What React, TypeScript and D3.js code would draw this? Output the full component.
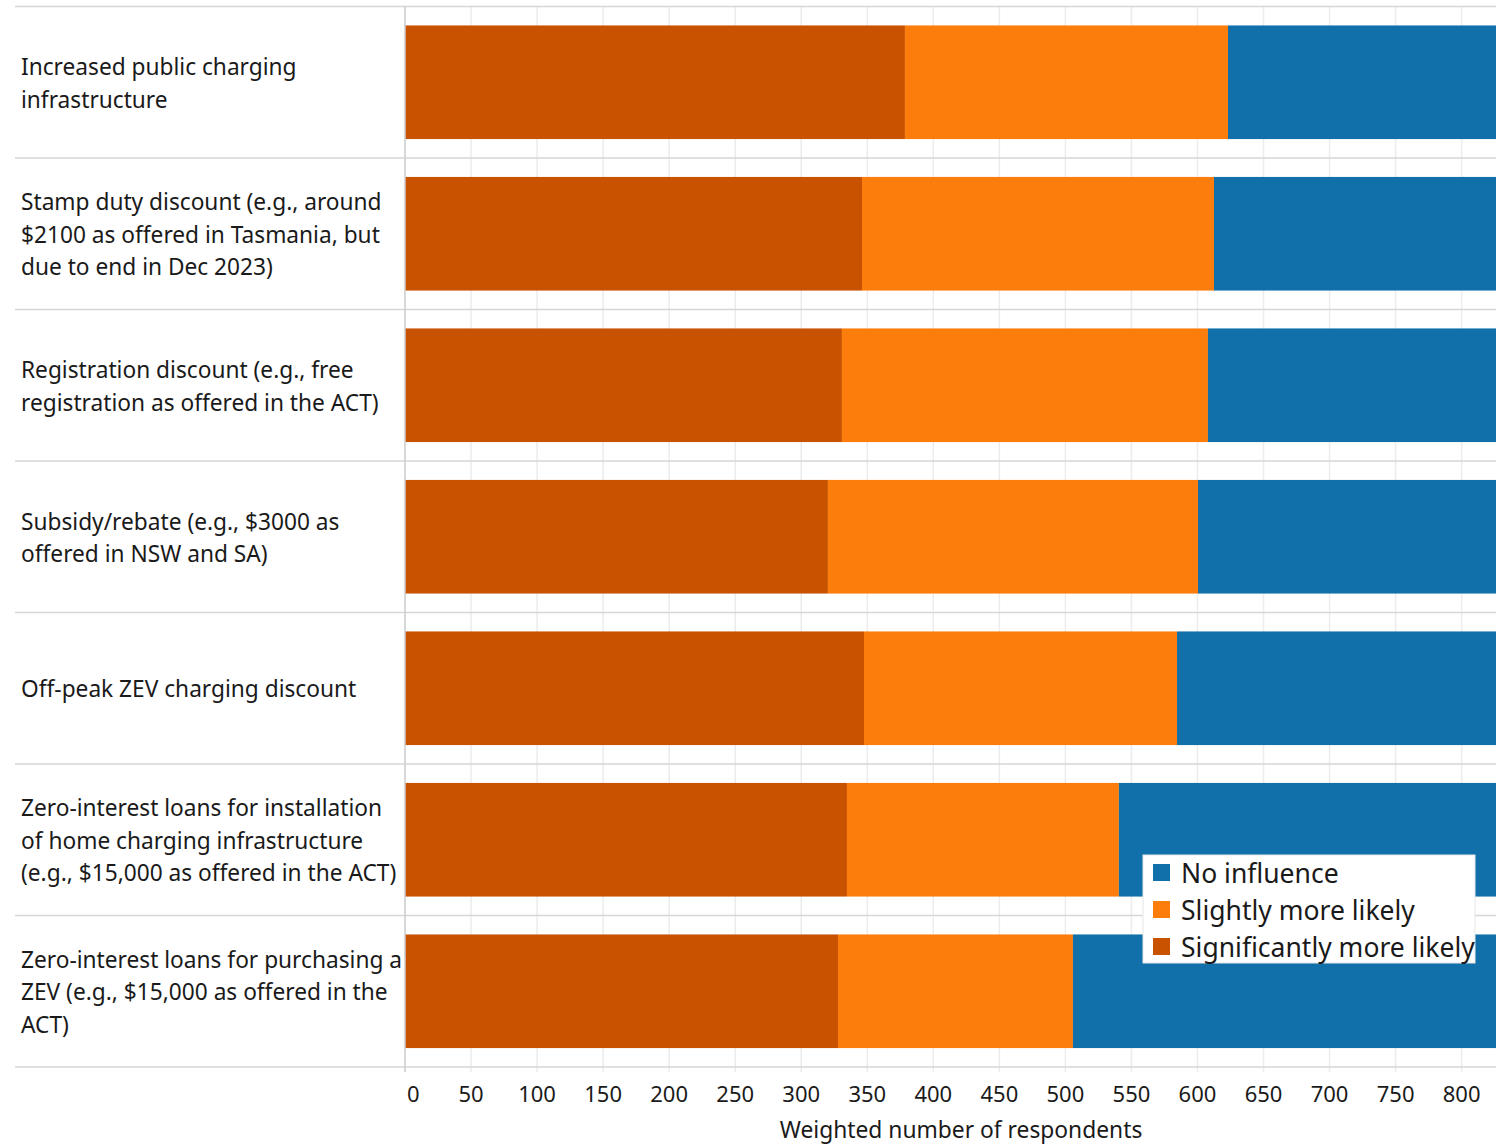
import React from "react";
import * as d3 from "d3";

const categories: string[][] = [
  ["Increased public charging", "infrastructure"],
  ["Stamp duty discount (e.g., around", "$2100 as offered in Tasmania, but", "due to end in Dec 2023)"],
  ["Registration discount (e.g., free", "registration as offered in the ACT)"],
  ["Subsidy/rebate (e.g., $3000 as", "offered in NSW and SA)"],
  ["Off-peak ZEV charging discount"],
  ["Zero-interest loans for installation", "of home charging infrastructure", "(e.g., $15,000 as offered in the ACT)"],
  ["Zero-interest loans for purchasing a", "ZEV (e.g., $15,000 as offered in the", "ACT)"],
];

const significantlyMoreLikely = [378.5, 346.0, 330.8, 320.2, 347.5, 334.6, 327.8];
const slightlyMoreLikely = [244.6, 266.5, 277.1, 280.2, 237.0, 205.9, 177.9];
const noInfluence = [202.9, 213.5, 218.1, 225.6, 241.5, 285.5, 320.3];

const seriesNames = ["Significantly more likely", "Slightly more likely", "No influence"];
const seriesColors = ["#c85200", "#fc7d0b", "#1170aa"];
const legendOrder = [2, 1, 0];
const xTicks = d3.range(0, 801, 50);
const xMax = 826;

const FONT = "'Noto Sans', 'Open Sans', sans-serif";

export default function App() {
  const W = 1496;
  const H = 1144;
  const left = 405;
  const right = 1496;
  const top = 6.5;
  const bottom = 1067;

  const x = d3.scaleLinear().domain([0, xMax]).range([left, right]);
  const y = d3
    .scaleBand<number>()
    .domain(d3.range(categories.length))
    .range([top, bottom])
    .paddingInner(0.25)
    .paddingOuter(0.125);
  const step = y.step();

  const table = categories.map((_, i) => ({
    i,
    s0: significantlyMoreLikely[i],
    s1: slightlyMoreLikely[i],
    s2: noInfluence[i],
  }));
  const stack = d3.stack<any>().keys(["s0", "s1", "s2"])(table);

  const rowEdges = d3.range(categories.length + 1).map((k) => top + k * step);

  return (
    <svg
      width={W}
      height={H}
      style={{ position: "absolute", left: 0, top: 0, background: "#fff" }}
      fontFamily={FONT}
    >
      <rect x={0} y={0} width={W} height={H} fill="#fff" />
      {/* gridlines */}
      {xTicks.map((t) => (
        <line
          key={"g" + t}
          x1={x(t)}
          x2={x(t)}
          y1={top}
          y2={bottom + 5}
          stroke="#ececec"
          strokeWidth={1.5}
        />
      ))}
      {/* bars */}
      {stack.map((layer, si) =>
        layer.map((d, i) => (
          <rect
            key={si + "-" + i}
            x={x(d[0])}
            y={y(i)}
            width={x(d[1]) - x(d[0])}
            height={y.bandwidth()}
            fill={seriesColors[si]}
          />
        ))
      )}
      {/* row separators */}
      {rowEdges.map((ry, k) => (
        <line key={"r" + k} x1={15} x2={right} y1={ry} y2={ry} stroke="#d6d6d6" strokeWidth={1.5} />
      ))}
      {/* left axis line */}
      <line x1={left} x2={left} y1={top} y2={bottom + 5} stroke="#cfcfcf" strokeWidth={1.5} />
      {/* category labels */}
      {categories.map((lines, i) => {
        const cy = (y(i) as number) + y.bandwidth() / 2;
        const lh = 32.5;
        return (
          <text key={"c" + i} x={21} fontSize={22.7} fill="#1a1a1a">
            {lines.map((ln, j) => (
              <tspan key={j} x={21} y={cy + (j - (lines.length - 1) / 2) * lh + 9}>
                {ln}
              </tspan>
            ))}
          </text>
        );
      })}
      {/* x tick labels */}
      {xTicks.map((t, k) => (
        <text
          key={"t" + t}
          x={k === 0 ? x(t) + 2 : x(t)}
          y={1102}
          textAnchor={k === 0 ? "start" : "middle"}
          fontSize={22}
          fill="#1a1a1a"
        >
          {t}
        </text>
      ))}
      <text x={961} y={1137.5} textAnchor="middle" fontSize={22.8} fill="#1a1a1a">
        Weighted number of respondents
      </text>
      {/* legend */}
      <g transform="translate(1143,855)">
        <rect x={0} y={0} width={332} height={108} fill="#fff" stroke="#e6e6e6" strokeWidth={1} />
        {legendOrder.map((si, k) => (
          <g key={"l" + si} transform={`translate(0, ${k * 37})`}>
            <rect x={10} y={9} width={17} height={17} fill={seriesColors[si]} />
            <text x={38} y={27.5} fontSize={26.5} fill="#1a1a1a">
              {seriesNames[si]}
            </text>
          </g>
        ))}
      </g>
    </svg>
  );
}
